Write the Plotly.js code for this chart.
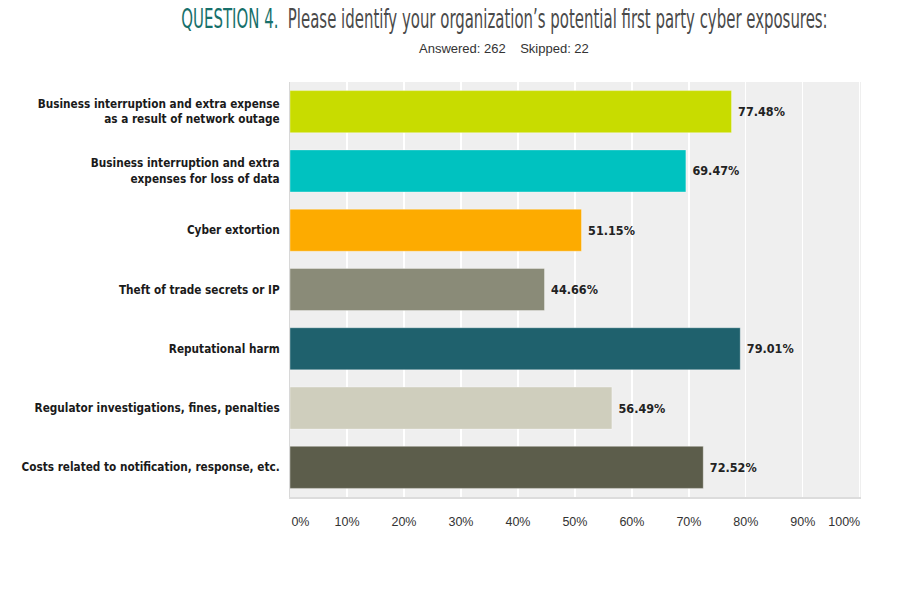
<!DOCTYPE html>
<html>
<head>
<meta charset="utf-8">
<script src="https://cdn.plot.ly/plotly-3.0.1.min.js"></script>
<style>html,body{margin:0;padding:0;background:#fff;}#chart{width:915px;height:608px;}</style>
</head>
<body>
<div id="chart"></div>
<script>
const categories = [
  "Business interruption and extra expense<br>as a result of network outage",
  "Business interruption and extra<br>expenses for loss of data",
  "Cyber extortion",
  "Theft of trade secrets or IP",
  "Reputational harm",
  "Regulator investigations, fines, penalties",
  "Costs related to notification, response, etc."
];
const values = [77.48, 69.47, 51.15, 44.66, 79.01, 56.49, 72.52];
const barColors = ["#c8dc00", "#00c2c0", "#fdab00", "#8a8b78", "#1f616d", "#cfcebd", "#5c5d4b"];
const tickValues = [0, 10, 20, 30, 40, 50, 60, 70, 80, 90, 100];
const tickLabels = ["&nbsp;&nbsp;&nbsp;&nbsp;&nbsp;&nbsp;0%", "10%", "20%", "30%", "40%", "50%", "60%", "70%", "80%", "90%", "100%&nbsp;&nbsp;&nbsp;&nbsp;&nbsp;&nbsp;&nbsp;&nbsp;&nbsp;"];

const condFont = "'DejaVu Sans Condensed', 'Liberation Sans Narrow', Arial, sans-serif";

const trace = {
  type: "bar",
  orientation: "h",
  y: categories,
  x: values,
  marker: { color: barColors, line: { color: "rgba(255,255,255,0.35)", width: 1 } },
  text: values.map(v => " <b>" + v.toFixed(2) + "%</b>"),
  textposition: "outside",
  textfont: { family: condFont, size: 12.5, color: "#222" },
  cliponaxis: false,
  hoverinfo: "none"
};

const layout = {
  width: 915,
  height: 608,
  margin: { l: 290, r: 54, t: 82, b: 111 },
  paper_bgcolor: "#ffffff",
  plot_bgcolor: "#efefef",
  bargap: 0.29,
  showlegend: false,
  title: {
    text: "<span style='color:#17706b'>QUESTION 4.</span>  <span style='color:#4a4a4a'>Please identify your organization’s potential first party cyber exposures:</span>",
    font: { family: condFont, size: 26, color: "#4a4a4a" },
    xref: "container", yref: "container",
    x: 504.5 / 915, xanchor: "center",
    y: 1 - 19 / 608, yanchor: "middle"
  },
  annotations: [{
    text: "Answered: 262&nbsp;&nbsp;&nbsp;&nbsp;Skipped: 22",
    xref: "paper", yref: "paper",
    x: (504 - 290) / 571, y: 1, xanchor: "center", yanchor: "middle",
    yshift: 34,
    showarrow: false,
    font: { family: "Arial, 'Liberation Sans', sans-serif", size: 13, color: "#333" }
  }],
  xaxis: {
    range: [0, 100.2],
    tickvals: tickValues,
    ticktext: tickLabels,
    showgrid: true,
    gridcolor: "#ffffff",
    gridwidth: 1.2,
    zeroline: false,
    showline: true,
    linecolor: "#dcdcdc",
    linewidth: 2,
    ticks: "",
    ticklabelstandoff: 12,
    tickfont: { family: "Arial, 'Liberation Sans', sans-serif", size: 12.5, color: "#333" },
    fixedrange: true
  },
  yaxis: {
    autorange: "reversed",
    showgrid: false,
    zeroline: false,
    showline: true,
    linecolor: "#d8d8d8",
    linewidth: 1,
    ticks: "",
    ticklabelstandoff: 7,
    tickfont: { family: condFont, size: 11.7, color: "#1a1a1a", weight: "bold" },
    fixedrange: true
  },
  font: { family: condFont }
};

Plotly.newPlot("chart", [trace], layout, { displayModeBar: false, staticPlot: true }).then(function () {
  const t = document.querySelector(".gtitle");
  if (!t) return;
  const bb = t.getBBox();
  const targetW = 647, cx = 504.5;
  const s = targetW / bb.width;
  const bcx = bb.x + bb.width / 2;
  t.setAttribute("transform", "translate(" + cx + ",0) scale(" + s + ",1) translate(" + (-bcx) + ",0)");
});
</script>
</body>
</html>
